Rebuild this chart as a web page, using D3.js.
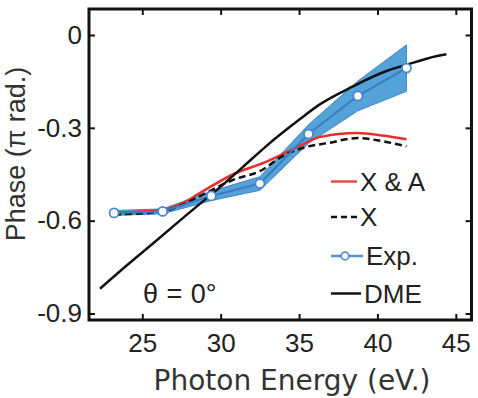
<!DOCTYPE html>
<html><head><meta charset="utf-8">
<script src="https://cdn.jsdelivr.net/npm/d3@7"></script>
<style>body{margin:0;background:#fff}svg{display:block}</style>
</head><body>
<svg id="c" width="478" height="398"></svg>
<script>
// Data
const expEnergy = [23.2, 26.3, 29.4, 32.5, 35.6, 38.75, 41.85];
const expPhase = [-0.575, -0.57, -0.52, -0.48, -0.32, -0.197, -0.107];
const expErr = [0.008, 0.008, 0.015, 0.022, 0.03, 0.048, 0.075];
const xaEnergy = [23.2, 26.3, 27.5, 28.7, 30.8, 32.9, 35.0, 36.3, 38.75, 40.3, 41.85];
const xaPhase = [-0.575, -0.565, -0.545, -0.51, -0.45, -0.41, -0.36, -0.33, -0.317, -0.325, -0.337];
const xEnergy = [23.2, 26.3, 27.5, 28.7, 30.8, 32.5, 34.0, 35.6, 36.75, 38.75, 40.3, 41.85];
const xPhase = [-0.58, -0.57, -0.55, -0.52, -0.468, -0.44, -0.39, -0.36, -0.35, -0.333, -0.343, -0.36];
const dmeEnergy = [22.3, 24, 26, 28, 30, 32, 33, 35, 36.3, 38.4, 40.5, 41.8, 43.8, 44.4];
const dmePhase = [-0.82, -0.745, -0.66, -0.574, -0.49, -0.4, -0.355, -0.274, -0.225, -0.167, -0.118, -0.097, -0.068, -0.062];
const xTicks = [25, 30, 35, 40, 45];
const yTicks = [0, -0.3, -0.6, -0.9];
const yTickLabels = ["0", "-0.3", "-0.6", "-0.9"];
const legendLabels = ["X & A", "X", "Exp.", "DME"];

const svg = d3.select("#c");
const L = 89, R = 471.5, T = 9, B = 320;
const x = d3.scaleLinear().domain([21.6, 46]).range([L, R]);
const y = d3.scaleLinear().domain([-0.921, 0.084]).range([B, T]);
const font = "'Liberation Sans', Arial, sans-serif";

const g = svg.append("g");
svg.append("clipPath").attr("id","pc").append("rect")
  .attr("x", L).attr("y", T).attr("width", R-L).attr("height", B-T);
const plot = g.append("g").attr("clip-path","url(#pc)");

// band
const band = expEnergy.map((e,i)=>({e, lo: expPhase[i]-expErr[i], hi: expPhase[i]+expErr[i]}));
plot.append("path").datum(band)
  .attr("d", d3.area().x(d=>x(d.e)).y0(d=>y(d.lo)).y1(d=>y(d.hi)))
  .attr("fill", "#55a2d8").attr("stroke", "#3f86c6").attr("stroke-width", 1);

const line = d3.line().x(d=>x(d[0])).y(d=>y(d[1]));
const smooth = d3.line().x(d=>x(d[0])).y(d=>y(d[1])).curve(d3.curveMonotoneX);

plot.append("path").datum(d3.zip(xaEnergy, xaPhase)).attr("d", smooth)
  .attr("fill","none").attr("stroke","#e5302a").attr("stroke-width",2.5);
plot.append("path").datum(d3.zip(xEnergy, xPhase)).attr("d", smooth)
  .attr("fill","none").attr("stroke","#111").attr("stroke-width",2.5).attr("stroke-dasharray","7,4");
plot.append("path").datum(d3.zip(expEnergy, expPhase)).attr("d", line)
  .attr("fill","none").attr("stroke","#3a7cc4").attr("stroke-width",2);
plot.append("path").datum(d3.zip(dmeEnergy, dmePhase)).attr("d", smooth)
  .attr("fill","none").attr("stroke","#111").attr("stroke-width",2.5);
plot.selectAll("circle.exp").data(d3.zip(expEnergy, expPhase)).join("circle").attr("class","exp")
  .attr("cx", d=>x(d[0])).attr("cy", d=>y(d[1])).attr("r", 4.5)
  .attr("fill","#fff").attr("stroke","#4a86cc").attr("stroke-width",1.8);

// axes (inward ticks on all sides)
const tk = 6;
g.append("g").attr("transform",`translate(0,${B})`)
  .call(d3.axisBottom(x).tickValues(xTicks).tickSize(-tk).tickPadding(14))
  .call(a=>a.select(".domain").remove());
g.append("g").attr("transform",`translate(0,${T})`)
  .call(d3.axisTop(x).tickValues(xTicks).tickSize(-tk).tickFormat(""))
  .call(a=>a.select(".domain").remove());
g.append("g").attr("transform",`translate(${L},0)`)
  .call(d3.axisLeft(y).tickValues(yTicks).tickSize(-tk).tickPadding(7).tickFormat((d,i)=>yTickLabels[i]))
  .call(a=>a.select(".domain").remove());
g.append("g").attr("transform",`translate(${R},0)`)
  .call(d3.axisRight(y).tickValues(yTicks).tickSize(-tk).tickFormat(""))
  .call(a=>a.select(".domain").remove());
g.selectAll(".tick line").attr("stroke","#111").attr("stroke-width",2);
g.selectAll(".tick text").attr("font-family",font).attr("font-size",26).attr("fill","#222");

g.append("rect").attr("x",L).attr("y",T).attr("width",R-L).attr("height",B-T)
  .attr("fill","none").attr("stroke","#111").attr("stroke-width",3);

// titles
svg.append("text").attr("x", 292).attr("y", 390).attr("text-anchor","middle")
  .attr("font-family","'DejaVu Sans', Verdana, sans-serif").attr("font-size",28).attr("fill","#333")
  .text("Photon Energy (eV.)");
svg.append("text").attr("transform","translate(25,154) rotate(-90)").attr("text-anchor","middle")
  .attr("font-family",font).attr("font-size",27).attr("fill","#333")
  .text("Phase (π rad.)");
svg.append("text").attr("x", 143).attr("y", 303).attr("font-family",font).attr("font-size",27).attr("fill","#222")
  .attr("word-spacing", 1).text("θ = 0°");

// legend
const lg = svg.append("g");
const items = [
  {lab: legendLabels[0], stroke:"#e84a45", dash:null, ly:181.5, tx:360, marker:false},
  {lab: legendLabels[1], stroke:"#111", dash:"6,4", ly:217, tx:360, marker:false},
  {lab: legendLabels[2], stroke:"#5a8fd0", dash:null, ly:256, tx:366, marker:true},
  {lab: legendLabels[3], stroke:"#111", dash:null, ly:293.5, tx:364, marker:false}
];
items.forEach(it=>{
  lg.append("line").attr("x1",331).attr("x2",it.tx-3).attr("y1",it.ly).attr("y2",it.ly)
    .attr("stroke",it.stroke).attr("stroke-width",2.5).attr("stroke-dasharray",it.dash);
  if(it.marker) lg.append("circle").attr("cx",345).attr("cy",it.ly).attr("r",3.8)
    .attr("fill","#fff").attr("stroke",it.stroke).attr("stroke-width",1.8);
  lg.append("text").attr("x",it.tx).attr("y",it.ly+9).attr("font-family",font).attr("font-size",26).attr("fill","#222").text(it.lab);
});
</script>
</body></html>
